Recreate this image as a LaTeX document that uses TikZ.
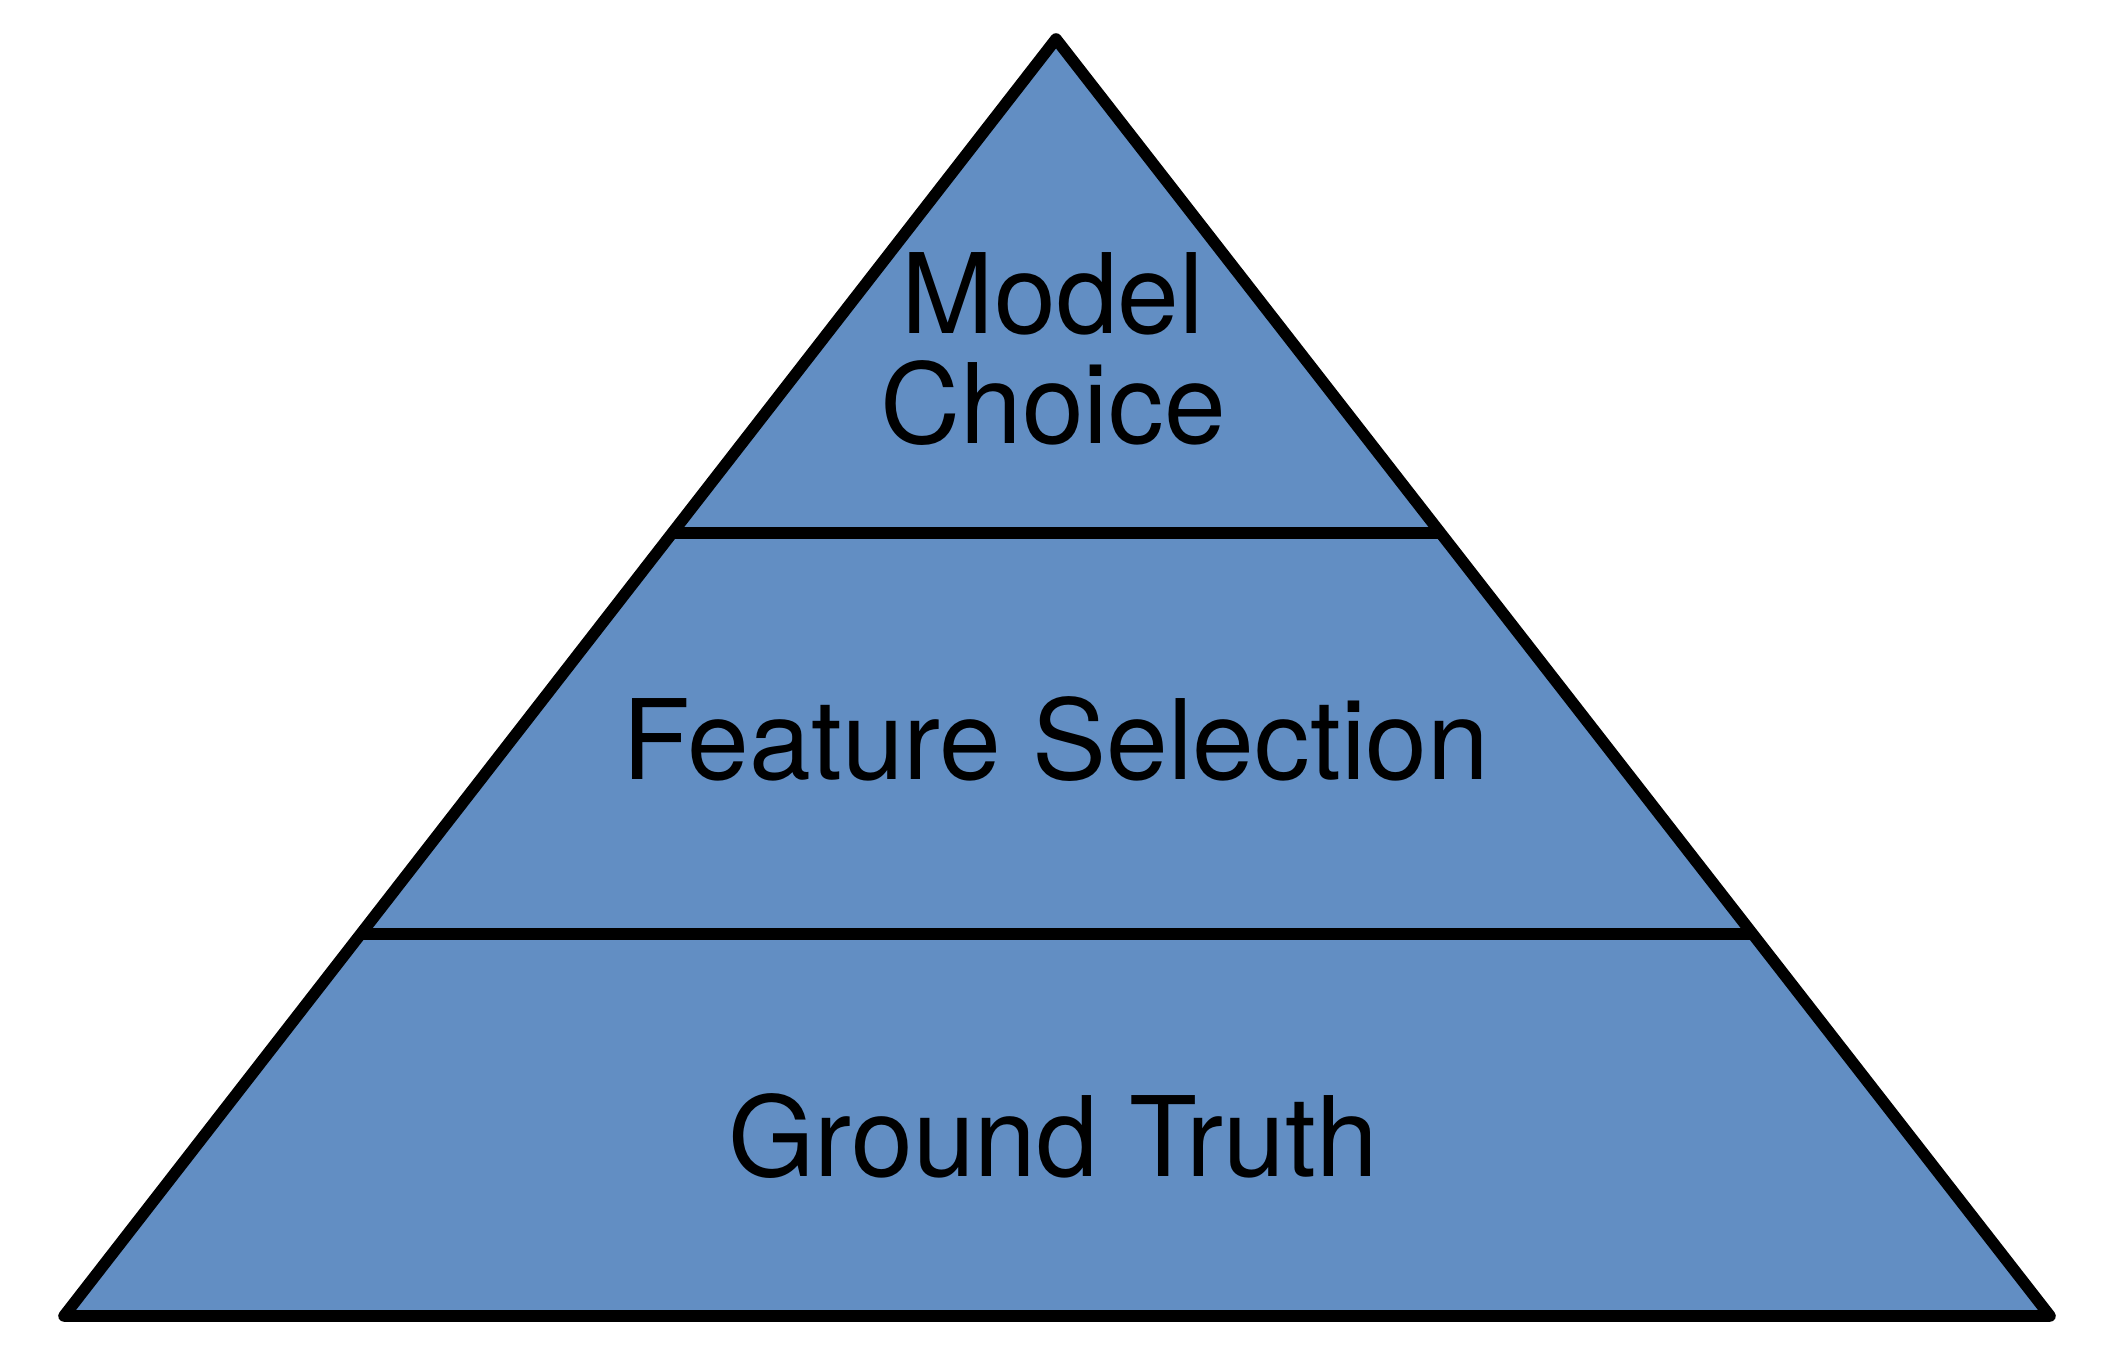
\documentclass[tikz,border=0pt]{standalone}
\usepackage{fontspec}
\setmainfont{TeX Gyre Heros}
\usepackage{xcolor}
\usetikzlibrary{calc}
\definecolor{pyramidblue}{HTML}{628EC3}

\tikzset{
  tier/.style={fill=pyramidblue, draw=black, line width=3.3pt, line join=round},
  divider/.style={draw=black, line width=3.3pt},
  tierlabel/.style={font=\fontsize{31.6}{31.3}\selectfont, text=black, inner sep=0pt, align=center}
}

\begin{document}
\begin{tikzpicture}
\useasboundingbox (0,0) rectangle (21.12,13.44);
% corners of the pyramid
\coordinate (apex) at (10.56,13.05);
\coordinate (bl) at (0.64,0.28);
\coordinate (br) at (20.50,0.28);
\draw[tier] (bl) -- (apex) -- (br) -- cycle;
% tier boundaries
\coordinate (upL) at ($(bl)!0.613!(apex)$);
\coordinate (upR) at ($(br)!0.613!(apex)$);
\coordinate (loL) at ($(bl)!0.299!(apex)$);
\coordinate (loR) at ($(br)!0.299!(apex)$);
\draw[divider] (upL) -- (upR);
\draw[divider] (loL) -- (loR);
% labels
\node[tierlabel] (model) at (10.53,9.95) {Model\\Choice};
\node[tierlabel, anchor=base] (feature) at (10.56,5.65) {Feature Selection};
\node[tierlabel, anchor=base] (ground) at (10.53,1.68) {Ground Truth};
\end{tikzpicture}
\end{document}
